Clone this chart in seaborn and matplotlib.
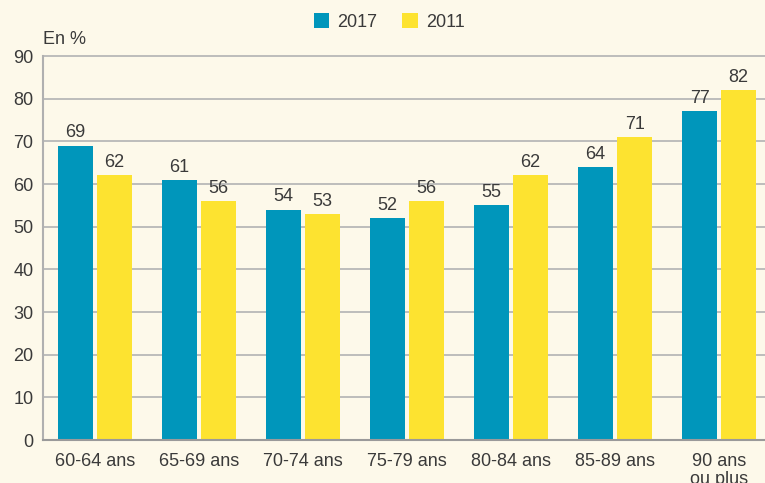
import pandas as pd
import matplotlib
matplotlib.use("Agg")
import matplotlib.pyplot as plt
import seaborn as sns

# Data
age_groups = ["60-64 ans", "65-69 ans", "70-74 ans", "75-79 ans",
              "80-84 ans", "85-89 ans", "90 ans\nou plus"]
values_2017 = [69, 61, 54, 52, 55, 64, 77]
values_2011 = [62, 56, 53, 56, 62, 71, 82]
years = ["2017", "2011"]

bg = "#FDF9EA"
colors = {"2017": "#0096BB", "2011": "#FDE330"}
text_color = "#3A3A3A"
fs = 13

sns.set_theme(style="white")
plt.rcParams["font.family"] = ["Liberation Sans Narrow", "Liberation Sans", "DejaVu Sans"]

df = pd.DataFrame({
    "age": age_groups * 2,
    "value": values_2017 + values_2011,
    "year": [years[0]] * len(age_groups) + [years[1]] * len(age_groups),
})

fig = plt.figure(figsize=(7.65, 4.83), dpi=100, facecolor=bg)
ax = fig.add_axes([0.0562, 0.089, 0.9438, 0.795])
ax.set_facecolor(bg)

sns.barplot(data=df, x="age", y="value", hue="year", order=age_groups,
            hue_order=years, palette=colors, width=0.75, gap=0.1,
            saturation=1, edgecolor="none", ax=ax, legend=True)

# value labels
for container in ax.containers:
    ax.bar_label(container, fmt="%d", padding=3, fontsize=fs, color=text_color)

ax.set_ylim(0, 90)
ax.set_xlim(-0.5, 6.44)
ax.set_yticks(range(0, 91, 10))
ax.yaxis.grid(True, color="#B8B8B8", linewidth=1.3)
for line in ax.get_ygridlines():
    line.set_clip_on(False)
ax.set_axisbelow(True)
for side in ["top", "right"]:
    ax.spines[side].set_visible(False)
ax.spines["left"].set_color("#B0B0B0")
ax.spines["bottom"].set_color("#9A9A9A")
ax.spines["left"].set_linewidth(1.5)
ax.spines["bottom"].set_linewidth(1.5)
ax.tick_params(axis="both", length=0, labelsize=fs, colors=text_color)
ax.tick_params(axis="y", pad=7)
ax.tick_params(axis="x", pad=9)
for lbl in ax.get_xticklabels():
    lbl.set_linespacing(1.1)
ax.set_xlabel("")
ax.set_ylabel("")
ax.text(0.0, 1.02, "En %", transform=ax.transAxes, fontsize=fs,
        color=text_color, ha="left", va="bottom")

handles, labels = ax.get_legend_handles_labels()
ax.legend(handles, labels, loc="center", bbox_to_anchor=(389 / 765, 1 - 22 / 483),
          bbox_transform=fig.transFigure, ncol=2, frameon=False, fontsize=fs,
          handlelength=0.85, handleheight=0.85, handletextpad=0.45,
          columnspacing=1.4, labelcolor=text_color)

fig.savefig("out.png", dpi=100, facecolor=bg)
